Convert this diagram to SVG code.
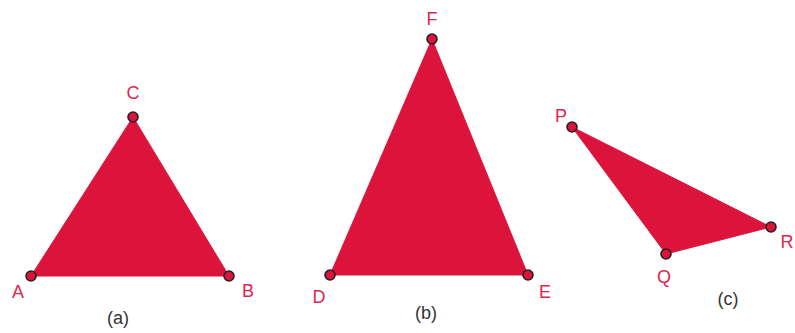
<svg xmlns="http://www.w3.org/2000/svg" width="795" height="333" viewBox="0 0 795 333">
<style>
.tri{fill:#DC143C;stroke:#DC143C;stroke-width:1}
.pt{fill:#DC143C;stroke:#222;stroke-width:1.6}
.lbl{font-family:"Liberation Sans",Arial,sans-serif;font-size:18px;fill:#E0264E;text-anchor:middle}
.cap{font-family:"Liberation Sans",Arial,sans-serif;font-size:18px;fill:#333;text-anchor:middle}
</style>
<rect width="795" height="333" fill="#fff"/>
<g id="triangle-a">
<polygon class="tri" points="31,276 133,117 229,276"/>
<circle class="pt" cx="31" cy="276" r="5"/>
<circle class="pt" cx="133" cy="117" r="5"/>
<circle class="pt" cx="229" cy="276" r="5"/>
<text class="lbl" x="133" y="99">C</text>
<text class="lbl" x="18" y="298">A</text>
<text class="lbl" x="248" y="297">B</text>
<text class="cap" x="118" y="324">(a)</text>
</g>
<g id="triangle-b">
<polygon class="tri" points="330,275 432,39 528,275"/>
<circle class="pt" cx="330" cy="275" r="5"/>
<circle class="pt" cx="432" cy="39" r="5"/>
<circle class="pt" cx="528" cy="275" r="5"/>
<text class="lbl" x="432" y="25">F</text>
<text class="lbl" x="319" y="303">D</text>
<text class="lbl" x="545" y="298">E</text>
<text class="cap" x="426" y="319">(b)</text>
</g>
<g id="triangle-c">
<polygon class="tri" points="572,127 666,254 771,227"/>
<circle class="pt" cx="572" cy="127" r="5"/>
<circle class="pt" cx="666" cy="254" r="5"/>
<circle class="pt" cx="771" cy="227" r="5"/>
<text class="lbl" x="561" y="122">P</text>
<text class="lbl" x="664" y="283">Q</text>
<text class="lbl" x="787" y="248">R</text>
<text class="cap" x="728" y="305">(c)</text>
</g>
</svg>
